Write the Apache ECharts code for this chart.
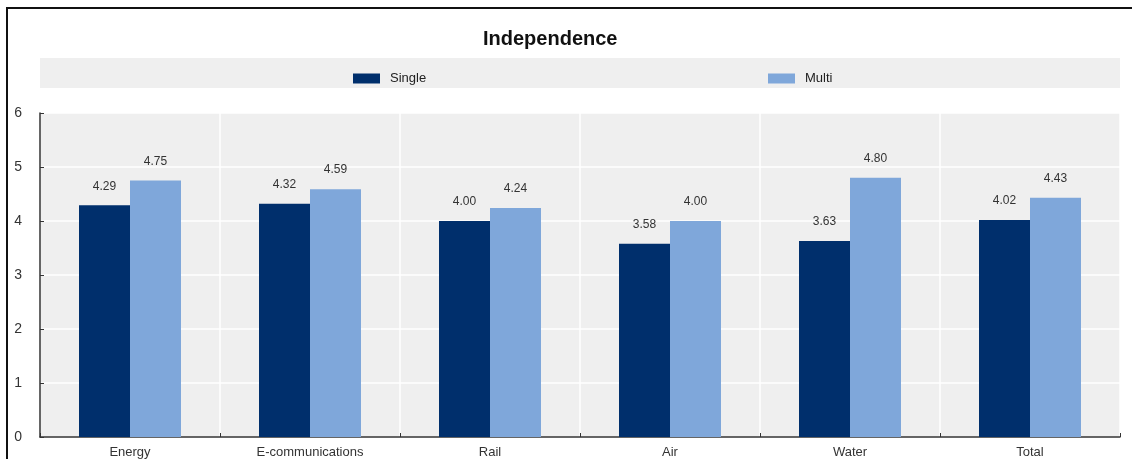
<!DOCTYPE html>
<html>
<head>
<meta charset="utf-8">
<script src="https://cdn.jsdelivr.net/npm/echarts@6/dist/echarts.min.js"></script>
<style>
  html, body { margin: 0; padding: 0; background: #fff; }
  #wrap { position: relative; width: 1132px; height: 459px; overflow: hidden; }
  #chart { position: absolute; left: 0; top: 0; width: 1132px; height: 459px; }
  #frame { position: absolute; left: 6px; top: 7px; width: 1140px; height: 470px;
           border-left: 2px solid #111; border-top: 2px solid #111; pointer-events: none; }
</style>
</head>
<body>
<div id="wrap">
  <div id="chart"></div>
  <div id="frame"></div>
</div>
<script>
const categories = ['Energy', 'E-communications', 'Rail', 'Air', 'Water', 'Total'];
const singleValues = [4.29, 4.32, 4.00, 3.58, 3.63, 4.02];
const multiValues = [4.75, 4.59, 4.24, 4.00, 4.80, 4.43];
const yTicks = [0, 1, 2, 3, 4, 5, 6];

const FONT = '"Liberation Sans", Arial, sans-serif';
const PANEL = '#efefef';

const chart = echarts.init(document.getElementById('chart'), null, { renderer: 'canvas' });

const valueLabel = {
  show: true,
  position: 'top',
  distance: 13,
  color: '#333',
  fontFamily: FONT,
  fontSize: 12,
  formatter: p => p.value.toFixed(2)
};

const legendText = { fontFamily: FONT, fontSize: 13, color: '#222', padding: [0, 0, 0, 5] };

chart.setOption({
  animation: false,
  backgroundColor: '#fff',
  title: {
    text: 'Independence',
    left: 478,
    top: 24,
    textStyle: { fontFamily: FONT, fontSize: 20, fontWeight: 'bold', color: '#111' }
  },
  graphic: [
    {
      type: 'rect',
      z: -1,
      shape: { x: 40, y: 58, width: 1080, height: 30 },
      style: { fill: PANEL }
    }
  ],
  legend: [
    {
      data: ['Single'],
      left: 348,
      top: 67,
      itemWidth: 27,
      itemHeight: 10,
      icon: 'rect',
      textStyle: legendText
    },
    {
      data: ['Multi'],
      left: 763,
      top: 67,
      itemWidth: 27,
      itemHeight: 10,
      icon: 'rect',
      textStyle: legendText
    }
  ],
  grid: {
    left: 40,
    right: 12,
    top: 113,
    bottom: 22,
    show: true,
    backgroundColor: PANEL,
    borderWidth: 0
  },
  xAxis: {
    type: 'category',
    data: categories,
    axisLine: { show: true, lineStyle: { color: '#333', width: 1.5 } },
    axisTick: { show: true, inside: true, length: 4, lineStyle: { color: '#333' } },
    splitLine: { show: true, lineStyle: { color: '#fff', width: 1.5 } },
    axisLabel: { fontFamily: FONT, fontSize: 13, color: '#333', margin: 9 }
  },
  yAxis: {
    type: 'value',
    min: yTicks[0],
    max: yTicks[yTicks.length - 1],
    interval: 1,
    axisLine: { show: true, lineStyle: { color: '#333', width: 1.5 } },
    axisTick: { show: true, inside: true, length: 4, lineStyle: { color: '#333' } },
    splitLine: { show: true, lineStyle: { color: '#fff', width: 1.5 } },
    axisLabel: { fontFamily: FONT, fontSize: 14, color: '#333', margin: 18 }
  },
  series: [
    {
      name: 'Single',
      type: 'bar',
      data: singleValues,
      barWidth: 51,
      barGap: '0%',
      itemStyle: { color: '#002F6C' },
      label: valueLabel
    },
    {
      name: 'Multi',
      type: 'bar',
      data: multiValues,
      barWidth: 51,
      barGap: '0%',
      itemStyle: { color: '#7FA7DA' },
      label: valueLabel
    }
  ]
});
</script>
</body>
</html>
